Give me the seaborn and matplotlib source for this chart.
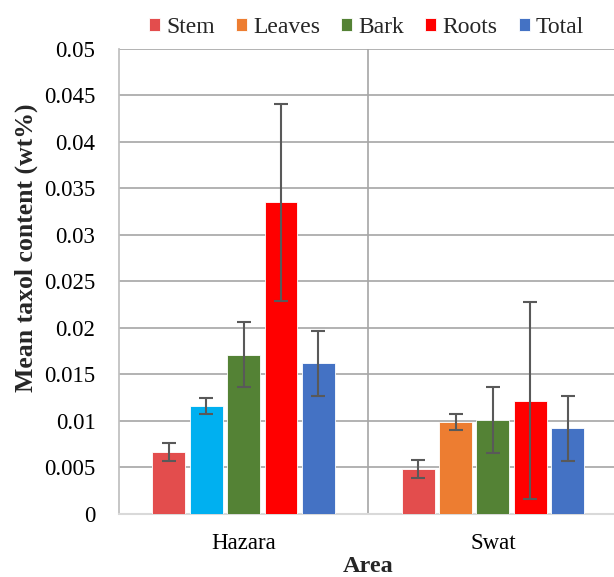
import matplotlib
matplotlib.use("Agg")
import matplotlib.pyplot as plt
from matplotlib.container import BarContainer
import seaborn as sns
import pandas as pd
import numpy as np

areas = ["Hazara", "Swat"]
parts = ["Stem", "Leaves", "Bark", "Roots", "Total"]
hazara_vals = [0.0067, 0.0116, 0.0171, 0.0335, 0.0162]
swat_vals = [0.0048, 0.0099, 0.0101, 0.0122, 0.0092]
hazara_err = [0.00097, 0.00088, 0.0035, 0.0106, 0.0035]
swat_err = [0.00098, 0.00088, 0.0035, 0.0106, 0.0035]
legend_colors = ["#E34D4D", "#ED7D31", "#548235", "#FF0000", "#4472C4"]
hazara_leaves_color = "#00B0F0"
ytick_labels = ["0", "0.005", "0.01", "0.015", "0.02", "0.025", "0.03", "0.035",
                "0.04", "0.045", "0.05"]

rows = []
for a, vals, errs in [("Hazara", hazara_vals, hazara_err), ("Swat", swat_vals, swat_err)]:
    for p, v, e in zip(parts, vals, errs):
        rows.append({"Area": a, "Part": p, "Value": v, "Err": e})
df = pd.DataFrame(rows)

sns.set_theme(style="white")
plt.rcParams["font.family"] = ["Liberation Serif", "DejaVu Serif"]

fig = plt.figure(figsize=(6.14, 5.77), dpi=100)
ax = fig.add_axes([0.1938, 0.1092, 0.812, 0.806])

sns.barplot(data=df, x="Area", y="Value", hue="Part", order=areas, hue_order=parts,
            palette=legend_colors, width=0.75, gap=0.12, errorbar=None, ax=ax,
            saturation=1, zorder=3)

for p in ax.patches:
    p.set_edgecolor("white")
    p.set_linewidth(0.6)

bar_containers = [c for c in ax.containers if isinstance(c, BarContainer)]
# recolor Hazara leaves (hue index 1, category 0)
bar_containers[1][0].set_facecolor(hazara_leaves_color)

errs_by_area = [hazara_err, swat_err]
for hi, cont in enumerate(bar_containers):
    for ci, bar in enumerate(cont):
        err = errs_by_area[ci][hi]
        cx = bar.get_x() + bar.get_width() / 2
        ax.errorbar(cx, bar.get_height(), yerr=err, color="#595959", capsize=5,
                    elinewidth=1.5, capthick=1.5, zorder=4)

ax.set_ylim(0, 0.05)
ax.set_xlim(-0.5, 1.5)
ax.set_yticks(np.arange(0, 0.0501, 0.005))
ax.set_yticklabels(ytick_labels)
ax.yaxis.grid(True, color="#A6A6A6", linewidth=1.2, zorder=0)
ax.set_axisbelow(True)
ax.axvline(0.5, color="#A6A6A6", linewidth=1.2, zorder=1)
for s in ["top", "right"]:
    ax.spines[s].set_visible(False)
ax.spines["left"].set_color("#BFBFBF")
ax.spines["bottom"].set_color("#D9D9D9")
ax.spines["bottom"].set_linewidth(1.5)
ax.tick_params(axis="both", labelsize=16.5, colors="black", length=0)
ax.tick_params(axis="y", pad=17)
ax.tick_params(axis="x", pad=14)
ax.set_xlabel("Area", fontsize=17.5, fontweight="bold", labelpad=1)
ax.set_ylabel("Mean taxol content (wt%)", fontsize=18.5, fontweight="bold")
ax.yaxis.set_label_coords(-0.163, 0.572)

handles, labels = ax.get_legend_handles_labels()
ax.legend(handles, labels, loc="center", bbox_to_anchor=(0.597, 0.953),
          ncol=5, frameon=False, fontsize=17, handlelength=0.47, handleheight=0.47,
          handletextpad=0.25, columnspacing=0.9, borderaxespad=0, borderpad=0,
          bbox_transform=fig.transFigure)

fig.savefig("out.png", dpi=100)
